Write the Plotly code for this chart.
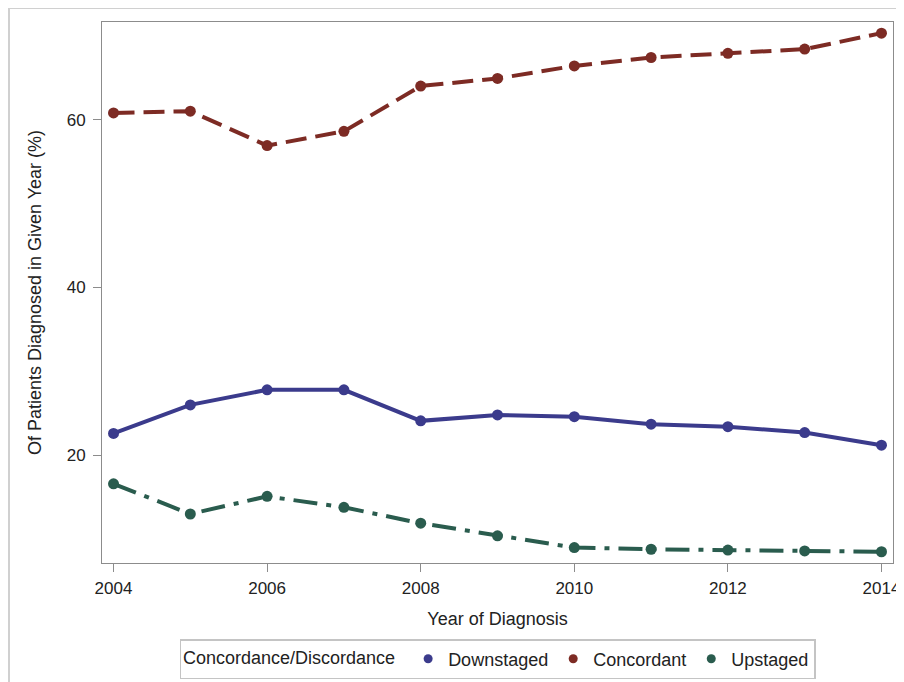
import plotly.graph_objects as go

years = [2004, 2005, 2006, 2007, 2008, 2009, 2010, 2011, 2012, 2013, 2014]
downstaged = [22.6, 26.0, 27.8, 27.8, 24.1, 24.8, 24.6, 23.7, 23.4, 22.7, 21.2]
concordant = [60.8, 61.0, 56.9, 58.6, 64.0, 64.9, 66.4, 67.4, 67.9, 68.4, 70.3]
upstaged = [16.6, 13.0, 15.1, 13.8, 11.9, 10.4, 9.0, 8.8, 8.7, 8.6, 8.5]

series_names = ["Downstaged", "Concordant", "Upstaged"]
colors = ["#3b3b8c", "#7d2b24", "#2a5c4e"]
dashes = ["solid", "21px,9px", "24px,9px,5px,9px"]
x_ticks = [2004, 2006, 2008, 2010, 2012, 2014]
y_ticks = [20, 40, 60]

FONT = "Liberation Sans, Arial, sans-serif"
W, H = 896, 674
L, R, T, B = 94, 11, 14, 119
PW, PH = W - L - R, H - T - B

fig = go.Figure()
for name, vals, col, dash in zip(series_names, [downstaged, concordant, upstaged], colors, dashes):
    fig.add_trace(go.Scatter(
        x=years, y=vals, mode="lines+markers", name=name, showlegend=False,
        line=dict(color=col, width=4, dash=dash),
        marker=dict(color=col, size=11, symbol="circle"),
    ))
for name, col in zip(series_names, colors):
    fig.add_trace(go.Scatter(
        x=[None], y=[None], mode="markers", name=name,
        marker=dict(color=col, size=9, symbol="circle"),
    ))

axis_common = dict(
    showline=True, mirror=True, linecolor="#8c8c8c", linewidth=1,
    showgrid=False, zeroline=False, ticks="outside", ticklen=8,
    tickcolor="#8c8c8c", tickwidth=1,
    tickfont=dict(family=FONT, size=17, color="#222"),
)

fig.update_layout(
    width=W, height=H,
    margin=dict(l=L, r=R, t=T, b=B),
    paper_bgcolor="white", plot_bgcolor="white",
    font=dict(family=FONT, size=18, color="#222"),
    xaxis=dict(
        range=[2003.85, 2014.15], tickvals=x_ticks,
        title=dict(text="Year of Diagnosis", font=dict(family=FONT, size=18, color="#222"), standoff=14),
        automargin=False, ticklabelstandoff=2, **axis_common,
    ),
    yaxis=dict(
        range=[7.16, 71.63], tickvals=y_ticks,
        title=dict(text="Of Patients Diagnosed in Given Year (%)", font=dict(family=FONT, size=18, color="#222"), standoff=20),
        automargin=False, ticklabelstandoff=4, **axis_common,
    ),
    legend=dict(
        orientation="h", xref="paper", x=0.5, xanchor="center",
        yref="container", y=(H - 651) / H, yanchor="middle",
        bordercolor="#c4c4c4", borderwidth=1.5,
        title=dict(text="Concordance/Discordance ", side="left", font=dict(family=FONT, size=18, color="#222")),
        font=dict(family=FONT, size=18, color="#222"),
        itemwidth=30,
        tracegroupgap=0,
    ),
    shapes=[dict(
        type="rect", xref="paper", yref="paper",
        x0=(1 - L) / PW, x1=(W + 30 - L) / PW,
        y0=(T + PH - (H + 30)) / PH, y1=(T + PH - 0) / PH,
        line=dict(color="#d0d0d0", width=2), fillcolor="rgba(0,0,0,0)", layer="below",
    )],
)

fig.write_html("out.html")
